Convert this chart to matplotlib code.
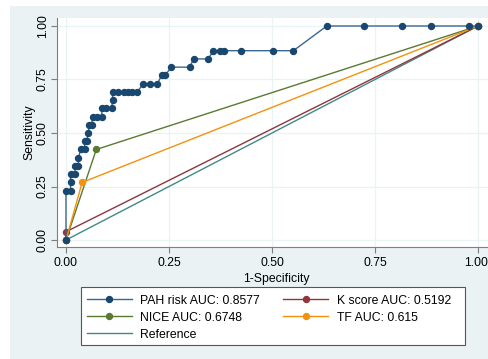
import matplotlib
matplotlib.use('Agg')
import matplotlib.pyplot as plt
import matplotlib.transforms as mtransforms
from matplotlib.patches import Rectangle

# ---- data ----
pah_fpr = [0.0, 0.0, 0.011, 0.011, 0.011, 0.022, 0.022, 0.030, 0.030, 0.036, 0.045,
           0.045, 0.050, 0.054, 0.057, 0.062, 0.065, 0.075, 0.087, 0.087, 0.098,
           0.111, 0.113, 0.113, 0.125, 0.140, 0.150, 0.160, 0.173, 0.188, 0.205,
           0.222, 0.232, 0.240, 0.256, 0.300, 0.310, 0.345, 0.358, 0.374, 0.383,
           0.424, 0.502, 0.552, 0.633, 0.723, 0.816, 0.885, 0.977, 1.0]
pah_tpr_k = [0, 6, 6, 7, 8, 8, 9, 9, 10, 11, 11,
             12, 12, 13, 14, 14, 15, 15, 15, 16, 16,
             16, 17, 18, 18, 18, 18, 18, 18, 19, 19,
             19, 20, 20, 21, 21, 22, 22, 23, 23, 23,
             23, 23, 23, 26, 26, 26, 26, 26, 26]
n_pos = 26
pah_tpr = [k / n_pos for k in pah_tpr_k]

k_fpr = [0.0, 0.0, 1.0]
k_tpr = [0.0, 0.0385, 1.0]
nice_fpr = [0.0, 0.0735, 1.0]
nice_tpr = [0.0, 0.4231, 1.0]
tf_fpr = [0.0, 0.0392, 1.0]
tf_tpr = [0.0, 0.2692, 1.0]
ref_x = [0.0, 1.0]
ref_y = [0.0, 1.0]

labels = ["PAH risk AUC: 0.8577", "K score AUC: 0.5192",
          "NICE AUC: 0.6748", "TF AUC: 0.615", "Reference"]
ticks = [0.0, 0.25, 0.5, 0.75, 1.0]
tick_labels = ["0.00", "0.25", "0.50", "0.75", "1.00"]

# ---- style ----
plt.rcParams['font.family'] = ['Liberation Sans', 'DejaVu Sans']
FS = 8.8
W, H = 488, 359
fig = plt.figure(figsize=(W / 100, H / 100), dpi=100, facecolor='white')
bg = '#EAF2F3'
fig.patches.append(Rectangle((10 / W, 0), 1, 1 - 6 / H, transform=fig.transFigure,
                             facecolor=bg, edgecolor='none', zorder=-10))

# axes in pixel coordinates
L, R, T, B = 57, 495, 18, 247
ax = fig.add_axes([L / W, 1 - B / H, (R - L) / W, (B - T) / H])
ax.set_facecolor('white')
x0px, x1px = 66, 478
y0px, y1px = 240, 26
ax.set_xlim((L - x0px) / (x1px - x0px), (R - x0px) / (x1px - x0px))
ax.set_ylim((y0px - B) / (y0px - y1px), (y0px - T) / (y0px - y1px))

navy = '#1A476F'
navy_line = '#3A6690'
maroon = '#90353B'
green = '#5A7A32'
orange = '#F2920E'
teal = '#3F8A88'
ms = 4.3

ax.plot(ref_x, ref_y, color=teal, lw=1.0, zorder=2)
ax.plot(k_fpr, k_tpr, color=maroon, lw=1.0, marker='o', ms=ms, zorder=3)
ax.plot(nice_fpr, nice_tpr, color=green, lw=1.0, marker='o', ms=ms, zorder=3)
ax.plot(tf_fpr, tf_tpr, color=orange, lw=1.0, marker='o', ms=ms, zorder=4)
ax.plot(pah_fpr, pah_tpr, color=navy_line, lw=1.0, marker='o', ms=ms,
        markerfacecolor=navy, markeredgecolor=navy, zorder=5)

ax.set_xticks(ticks)
ax.set_xticklabels(tick_labels, fontsize=FS)
ax.set_yticks(ticks)
ax.set_yticklabels(tick_labels, fontsize=FS, rotation=90, va='center')
ax.grid(True, color=bg, lw=0.9, zorder=0)
ax.set_axisbelow(True)
for s in ['top', 'right']:
    ax.spines[s].set_visible(False)
for s in ['left', 'bottom']:
    ax.spines[s].set_color('#7F7F7F')
    ax.spines[s].set_linewidth(0.8)
ax.tick_params(colors='#7F7F7F', labelcolor='black', length=4, width=0.8, pad=3)
ax.tick_params(axis='y', pad=2)

# nudge the last x tick label so it stays inside the picture
last = ax.get_xticklabels()[-1]
last.set_transform(last.get_transform() +
                   mtransforms.ScaledTranslation(-2 / 100, 0, fig.dpi_scale_trans))

ax.set_xlabel("1-Specificity", fontsize=FS, labelpad=3)
ax.set_ylabel("Sensitivity", fontsize=FS, labelpad=1)

h = ax.get_lines()
# order: PAH, NICE, Ref (col 1); K, TF (col 2)
hl = [h[4], h[2], h[0], h[1], h[3]]
ll = [labels[0], labels[2], labels[4], labels[1], labels[3]]
fig.patches.append(Rectangle((81 / W, 1 - 345 / H), (465 - 81) / W, (345 - 287) / H,
                             transform=fig.transFigure, facecolor='white',
                             edgecolor='#555555', lw=0.8, zorder=1))
leg = fig.legend(hl, ll, ncol=2, fontsize=FS, loc='upper left',
                 bbox_to_anchor=(81 / W, 1 - 289 / H), frameon=False,
                 handlelength=3.7, handletextpad=0.7, columnspacing=1.9,
                 labelspacing=0.42, borderpad=0.45, borderaxespad=0)
leg.set_zorder(5)

fig.savefig('out.png', dpi=100, facecolor='white')
